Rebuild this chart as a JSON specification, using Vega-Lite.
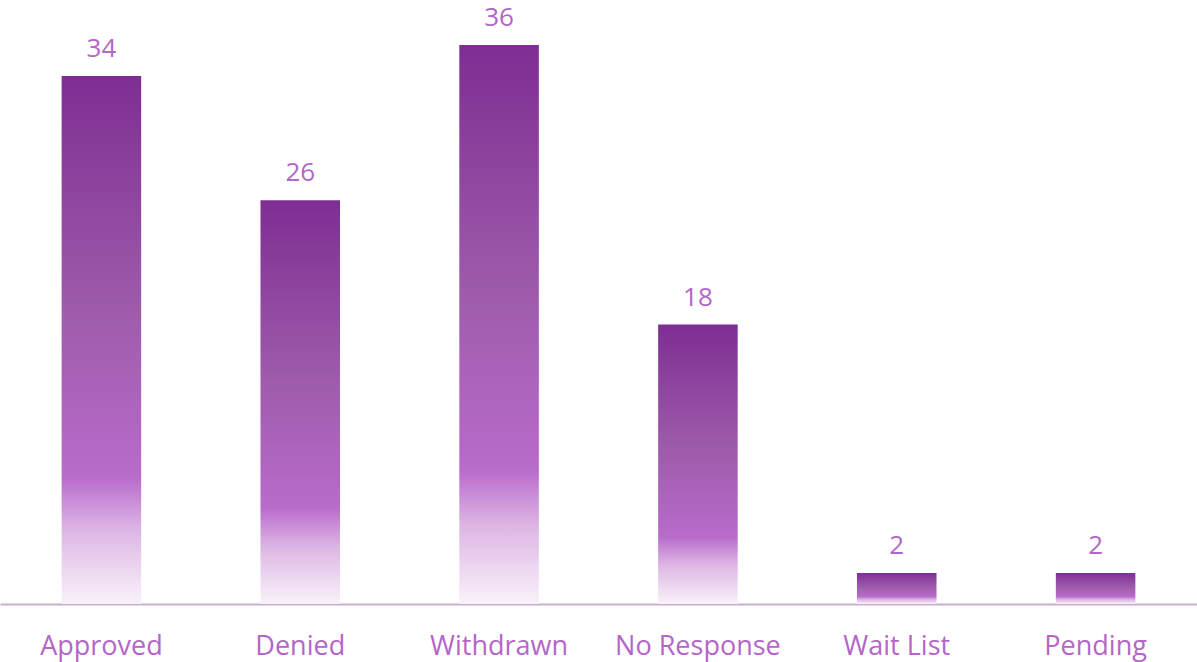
{
  "$schema": "https://vega.github.io/schema/vega-lite/v6.json",
  "width": 1197,
  "height": 604,
  "autosize": {"type": "none"},
  "padding": {"top": 0, "left": 0, "right": 0, "bottom": 58},
  "background": "white",
  "config": {"view": {"stroke": null}, "font": "Open Sans"},
  "data": {"values": [
    {"status": "Approved", "count": 34},
    {"status": "Denied", "count": 26},
    {"status": "Withdrawn", "count": 36},
    {"status": "No Response", "count": 18},
    {"status": "Wait List", "count": 2},
    {"status": "Pending", "count": 2}
  ]},
  "encoding": {
    "x": {"field": "status", "type": "nominal", "sort": null,
      "scale": {"paddingInner": 0.6, "paddingOuter": 0.31},
      "axis": {"title": null, "ticks": false, "grid": false, "domainColor": "#C9AED2", "domainWidth": 2,
        "labelColor": "#B466C8", "labelFontSize": 27, "labelFont": "Open Sans", "labelAngle": 0,
        "labelBaseline": "alphabetic", "labelPadding": 50}},
    "y": {"field": "count", "type": "quantitative", "scale": {"domain": [0, 38.9], "nice": false}, "axis": null}
  },
  "layer": [
    {"mark": {"type": "bar", "color": {"gradient": "linear", "x1": 0, "y1": 0, "x2": 0, "y2": 1,
      "stops": [
        {"offset": 0, "color": "#7E2E93"},
        {"offset": 0.45, "color": "#9E5CAB"},
        {"offset": 0.76, "color": "#B86BCB"},
        {"offset": 0.86, "color": "#DDB6E4"},
        {"offset": 1, "color": "#F9F2FA"}
      ]}}},
    {"mark": {"type": "text", "baseline": "alphabetic", "dy": -19, "fontSize": 26, "color": "#B466C8", "font": "Open Sans"},
      "encoding": {"text": {"field": "count", "type": "quantitative"}}}
  ]
}
